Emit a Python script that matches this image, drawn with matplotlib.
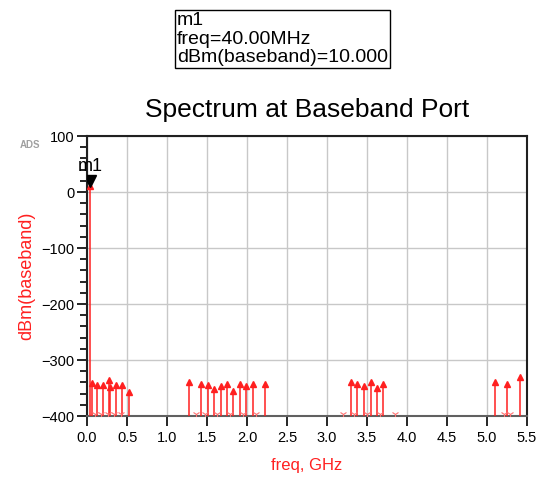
import numpy as np
import matplotlib
matplotlib.use('Agg')
import matplotlib.pyplot as plt
from matplotlib.ticker import MultipleLocator

plt.rcParams['font.family'] = ['Liberation Sans', 'DejaVu Sans']

# spectral lines, freq in GHz, level in dBm
freq = [0.04, 0.06, 0.12, 0.20, 0.28, 0.29, 0.36, 0.44, 0.52,
        1.27, 1.43, 1.51, 1.59, 1.67, 1.75, 1.83, 1.91, 1.99, 2.07, 2.23,
        3.30, 3.38, 3.46, 3.545, 3.625, 3.70,
        5.095, 5.25, 5.415]
level = [10.0, -341, -345, -345, -336, -348, -345, -345, -358,
         -340, -343, -345, -351, -347, -343, -355, -342, -347, -342, -343,
         -339, -343, -347, -339, -350, -343,
         -339, -343, -331]
# components below the plot floor
low_freq = [0.10, 0.18, 0.26, 0.34, 0.42, 1.36, 1.47, 1.63, 1.79, 1.95, 2.11,
            3.20, 3.34, 3.50, 3.66, 3.85, 5.21, 5.29]

xticks = np.arange(0, 5.51, 0.5)
yticks = [-400, -300, -200, -100, 0, 100]

fig = plt.figure(figsize=(5.41, 4.79), dpi=100, facecolor='white')
ax = fig.add_axes([0.161, 0.1315, 0.813, 0.5845])

ax.vlines(freq, -400, level, color='#ff2020', lw=1.1, zorder=3)
ax.plot(freq, level, linestyle='none', marker='^', ms=4.5, color='#ff2020', zorder=4)
ax.plot(low_freq, [-397] * len(low_freq), linestyle='none', marker='1', ms=5,
        color='#ff7070', mew=0.8, zorder=3)

# marker m1
ax.plot([freq[0]], [level[0] + 10], marker='v', ms=8, color='black', zorder=5)
ax.text(-0.12, level[0] + 20, 'm1', fontsize=13, ha='left', va='bottom', clip_on=False)

ax.set_xlim(0, 5.5)
ax.set_ylim(-400, 100)
ax.set_xticks(xticks)
ax.set_xticklabels(['%.1f' % v for v in xticks])
ax.set_yticks(yticks)
ax.yaxis.set_minor_locator(MultipleLocator(20))
ax.tick_params(axis='both', labelsize=10.5, length=7, width=1.2, direction='out', pad=2)
ax.tick_params(axis='x', pad=4)
ax.tick_params(axis='y', which='minor', length=5, width=1.2)
ax.grid(True, color='#c8c8c8', lw=1, zorder=0)
for s in ax.spines.values():
    s.set_linewidth(1.5)
    s.set_color('#202020')
ax.spines['bottom'].set_color('#606060')

ax.set_xlabel('freq, GHz', color='#ff2020', fontsize=12, labelpad=9)
ax.set_ylabel('dBm(baseband)', color='#ff2020', fontsize=13)
ax.yaxis.set_label_coords(-0.118, 0.5)
ax.set_title('Spectrum at Baseband Port', fontsize=19, pad=14)

fig.text(0.037, 0.69, 'ADS', fontsize=7, color='#a0a0a0', fontweight='bold')

fig.text(0.327, 0.862, 'm1\nfreq=40.00MHz\ndBm(baseband)=10.000', fontsize=14,
         linespacing=1.12, va='bottom', ha='left',
         bbox=dict(boxstyle='square,pad=0.12', fc='white', ec='black', lw=1))

fig.savefig('out.png', dpi=100, facecolor='white')
